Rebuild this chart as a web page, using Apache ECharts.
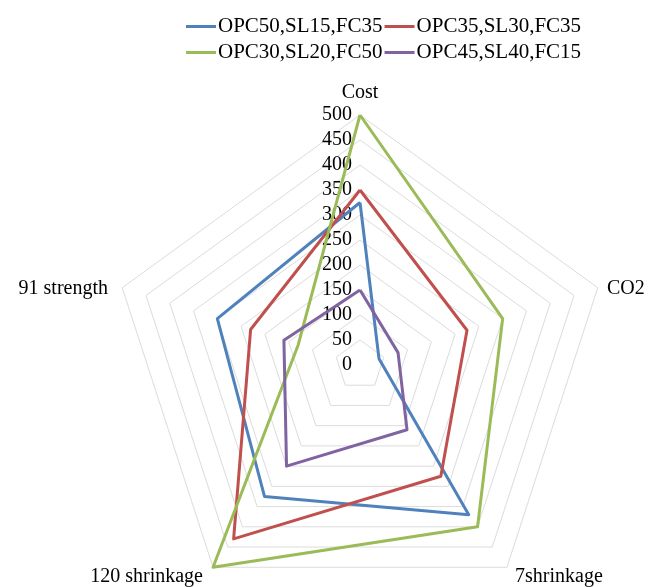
<!DOCTYPE html>
<html>
<head>
<meta charset="utf-8">
<style>
html,body{margin:0;padding:0;background:#fff;}
#chart{width:652px;height:587px;}
</style>
<script src="https://cdn.jsdelivr.net/npm/echarts@6/dist/echarts.min.js"></script>
</head>
<body>
<div id="chart"></div>
<script>
// Indicators in ECharts order (counter-clockwise from the top)
var indicatorNames = ['Cost', '91 strength', '120 shrinkage', '7shrinkage', 'CO2'];
var tickValues = [0, 50, 100, 150, 200, 250, 300, 350, 400, 450, 500];

var seriesNames = ['OPC50,SL15,FC35', 'OPC35,SL30,FC35', 'OPC30,SL20,FC50', 'OPC45,SL40,FC15'];
// values in indicator order: Cost, 91 strength, 120 shrinkage, 7shrinkage, CO2
var opc50 = [325, 300, 325, 370, 40];
var opc35 = [350, 230, 430, 275, 225];
var opc30 = [500, 130, 500, 400, 300];
var opc45 = [150, 160, 250, 160, 80];
var seriesValues = [opc50, opc35, opc30, opc45];
var colors = ['#4F81BD', '#C0504D', '#9BBB59', '#8064A2'];

var FONT = '"Liberation Serif", "Times New Roman", serif';
var maxVal = tickValues[tickValues.length - 1];

var chart = echarts.init(document.getElementById('chart'), null, {renderer: 'canvas'});

var indicators = indicatorNames.map(function (n, i) {
  var ind = {name: n, min: 0, max: maxVal};
  if (i === 0) {
    ind.axisLabel = {show: true};
  }
  return ind;
});

var legendCommon = {
  left: 181,
  orient: 'horizontal',
  icon: 'rect',
  itemWidth: 30,
  itemHeight: 3,
  itemGap: 2,
  textStyle: {fontFamily: FONT, fontSize: 21, color: '#000', padding: [0, 0, 0, -3]},
  selectedMode: false
};

var option = {
  animation: false,
  backgroundColor: '#fff',
  color: colors,
  legend: [
    Object.assign({}, legendCommon, {top: 11, data: [seriesNames[0], seriesNames[1]]}),
    Object.assign({}, legendCommon, {top: 37, data: [seriesNames[2], seriesNames[3]]})
  ],
  radar: {
    center: [360, 365],
    radius: 250,
    startAngle: 90,
    splitNumber: tickValues.length - 1,
    shape: 'polygon',
    indicator: indicators,
    axisName: {show: false},
    axisLine: {show: false},
    axisTick: {show: false},
    axisLabel: {
      show: false,
      fontFamily: FONT,
      fontSize: 20,
      color: '#000',
      margin: 8
    },
    splitLine: {lineStyle: {color: '#dcdcdc', width: 1}},
    splitArea: {show: false}
  },
  graphic: [
    {type: 'text', x: 360, y: 93, style: {text: indicatorNames[0], font: '20px ' + FONT, fill: '#000', align: 'center', verticalAlign: 'middle'}},
    {type: 'text', x: 607, y: 289, style: {text: indicatorNames[4], font: '20px ' + FONT, fill: '#000', align: 'left', verticalAlign: 'middle'}},
    {type: 'text', x: 108, y: 289, style: {text: indicatorNames[1], font: '20px ' + FONT, fill: '#000', align: 'right', verticalAlign: 'middle'}},
    {type: 'text', x: 203, y: 577, style: {text: indicatorNames[2], font: '20px ' + FONT, fill: '#000', align: 'right', verticalAlign: 'middle'}},
    {type: 'text', x: 515, y: 577, style: {text: indicatorNames[3], font: '20px ' + FONT, fill: '#000', align: 'left', verticalAlign: 'middle'}}
  ],
  series: [{
    type: 'radar',
    symbol: 'none',
    data: seriesNames.map(function (n, i) {
      return {
        name: n,
        value: seriesValues[i],
        lineStyle: {color: colors[i], width: 3},
        itemStyle: {color: colors[i]},
        areaStyle: null
      };
    })
  }]
};

chart.setOption(option);
</script>
</body>
</html>
